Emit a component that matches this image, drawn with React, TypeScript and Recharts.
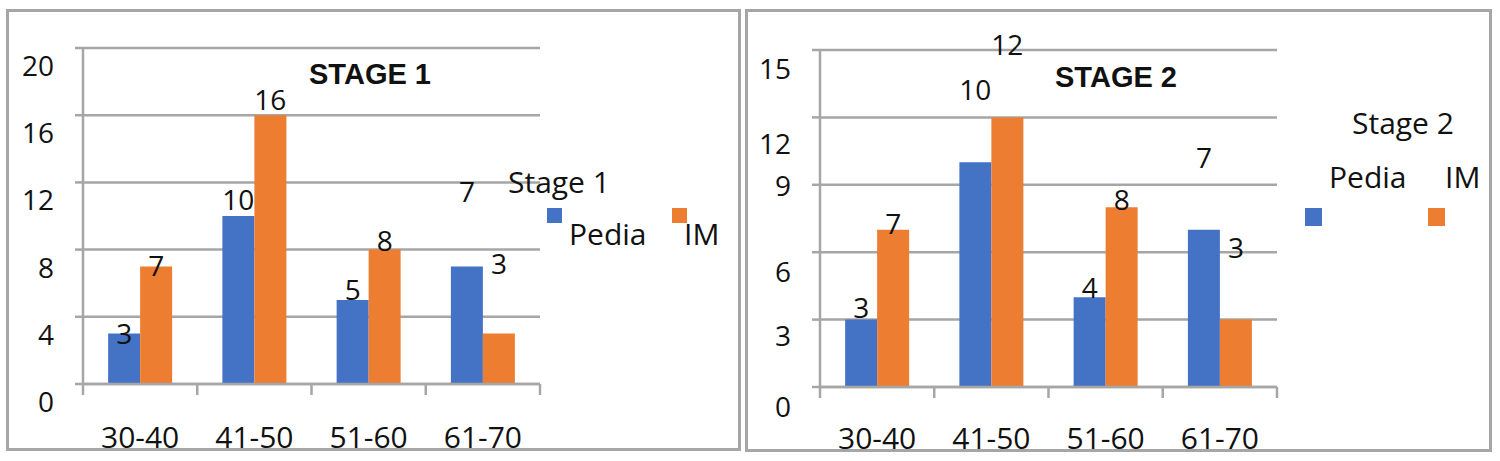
import React from "react";
import {
  BarChart,
  Bar,
  XAxis,
  YAxis,
  CartesianGrid,
  LabelList,
  Legend,
} from "recharts";

// values
const ageGroups = ["30-40", "41-50", "51-60", "61-70"];
const seriesNames = ["Pedia", "IM"];
const stage1Pedia = [3, 10, 5, 7];
const stage1IM = [7, 16, 8, 3];
const stage2Pedia = [3, 10, 4, 7];
const stage2IM = [7, 12, 8, 3];
const stage1Ticks = [0, 4, 8, 12, 16, 20];
const stage2Ticks = [0, 3, 6, 9, 12, 15];

const BLUE = "#4472C4";
const ORANGE = "#ED7D31";
const GRID = "#a6a6a6";
const INK = "#111";
const FONT = "'Open Sans', sans-serif";
const BAND = 457 / 4;

const buildRows = (pedia: number[], im: number[]) =>
  ageGroups.map((name, i) => ({ name, Pedia: pedia[i], IM: im[i] }));

// the source picture has its labels knocked out of place, keep that look
const makeBarLabel = (shift: number[]) => (props: any) => {
  const { x, y, width, value, index } = props;
  return (
    <text
      x={Number(x) + Number(width) / 2}
      y={Number(y) + shift[index] + 10}
      textAnchor="middle"
      fontSize={28}
      fontFamily={FONT}
      fill={INK}
    >
      {value}
    </text>
  );
};

const makeYTick = (shift: number[]) => (props: any) => {
  const { x, y, payload, index } = props;
  return (
    <text
      x={x - 21}
      y={y + shift[index] + 10}
      textAnchor="end"
      fontSize={28}
      fontFamily={FONT}
      fill={INK}
    >
      {payload.value}
    </text>
  );
};

const makeXTick = (drop: number) => (props: any) => {
  const { x, y, payload, index } = props;
  return (
    <g>
      <line x1={x - BAND / 2} x2={x - BAND / 2} y1={y} y2={y + 11} stroke={GRID} strokeWidth={2.5} />
      {index === ageGroups.length - 1 && (
        <line x1={x + BAND / 2} x2={x + BAND / 2} y1={y} y2={y + 11} stroke={GRID} strokeWidth={2.5} />
      )}
      <text x={x} y={y + drop} textAnchor="middle" fontSize={30} fontFamily={FONT} fill={INK}>
        {payload.value}
      </text>
    </g>
  );
};

interface LegendSpot {
  heading: string;
  headX: number;
  headY: number;
  boxX: number[];
  boxY: number;
  boxW: number;
  boxH: number;
  textX: number[];
  textY: number;
}

const makeLegend = (spot: LegendSpot, w: number, h: number) => (props: any) => {
  const items = props.payload || [];
  return (
    <svg width={w} height={h} style={{ overflow: "visible", display: "block" }}>
      <text x={spot.headX} y={spot.headY} fontSize={30} fontFamily={FONT} fill={INK}>
        {spot.heading}
      </text>
      {items.map((item: any) => {
        const i = Math.max(0, seriesNames.indexOf(String(item.value)));
        return (
          <g key={item.value}>
            <rect x={spot.boxX[i]} y={spot.boxY} width={spot.boxW} height={spot.boxH} fill={item.color} />
            <text x={spot.textX[i]} y={spot.textY} fontSize={30} fontFamily={FONT} fill={INK}>
              {item.value}
            </text>
          </g>
        );
      })}
    </svg>
  );
};

interface PanelProps {
  left: number;
  width: number;
  margin: { top: number; right: number; bottom: number; left: number };
  pedia: number[];
  im: number[];
  ticks: number[];
  tickShift: number[];
  pediaShift: number[];
  imShift: number[];
  xDrop: number;
  title: string;
  titleX: number;
  titleBase: number;
  legend: LegendSpot;
}

const StagePanel: React.FC<PanelProps> = (p) => {
  const height = 461;
  const data = buildRows(p.pedia, p.im);
  return (
    <div style={{ position: "absolute", left: p.left, top: 0, width: p.width, height }}>
      <BarChart
        width={p.width}
        height={height}
        data={data}
        margin={p.margin}
        barCategoryGap="22%"
        barGap={0}
      >
        <CartesianGrid horizontal vertical={false} stroke={GRID} strokeWidth={2.5} />
        <XAxis
          dataKey="name"
          height={70}
          axisLine={{ stroke: GRID, strokeWidth: 2.5 }}
          tickLine={false}
          tickSize={0}
          tickMargin={0}
          interval={0}
          tick={makeXTick(p.xDrop)}
        />
        <YAxis
          width={60}
          domain={[0, p.ticks[p.ticks.length - 1]]}
          ticks={p.ticks}
          interval={0}
          axisLine={{ stroke: GRID, strokeWidth: 2.5 }}
          tickLine={{ stroke: GRID, strokeWidth: 2.5 }}
          tickSize={8}
          tickMargin={0}
          tick={makeYTick(p.tickShift)}
        />
        <Legend
          layout="horizontal"
          verticalAlign="middle"
          align="center"
          content={makeLegend(p.legend, p.width, height)}
          wrapperStyle={{ left: 0, top: 0, width: p.width, height, pointerEvents: "none" }}
        />
        <Bar dataKey="Pedia" name="Pedia" fill={BLUE} isAnimationActive={false}>
          <LabelList dataKey="Pedia" content={makeBarLabel(p.pediaShift)} />
        </Bar>
        <Bar dataKey="IM" name="IM" fill={ORANGE} isAnimationActive={false}>
          <LabelList dataKey="IM" content={makeBarLabel(p.imShift)} />
        </Bar>
      </BarChart>
      <div
        style={{
          position: "absolute",
          left: p.titleX - 120,
          top: p.titleBase - 25,
          width: 240,
          textAlign: "center",
          fontFamily: "'Liberation Sans', Arial, sans-serif",
          fontWeight: "bold",
          fontSize: 29,
          lineHeight: 1,
          color: INK,
        }}
      >
        {p.title}
      </div>
    </div>
  );
};

const frame = (left: number, top: number, width: number, height: number): React.CSSProperties => ({
  position: "absolute",
  left,
  top,
  width,
  height,
  border: `3px solid ${GRID}`,
  boxSizing: "border-box",
});

export default function App() {
  return (
    <div
      style={{
        position: "fixed",
        left: 0,
        top: 0,
        width: 1500,
        height: 461,
        background: "#fff",
        overflow: "hidden",
      }}
    >
      <div style={frame(6, 9, 735, 442)} />
      <div style={frame(745, 9, 747, 443)} />
      <StagePanel
        left={0}
        width={745}
        margin={{ top: 48, right: 205, bottom: 7, left: 23 }}
        pedia={stage1Pedia}
        im={stage1IM}
        ticks={stage1Ticks}
        tickShift={[18, 18, 18, 18, 18, 18]}
        pediaShift={[0, -16, -10, -74]}
        imShift={[0, -15, -9, -70]}
        xDrop={64}
        title="STAGE 1"
        titleX={370}
        titleBase={85}
        legend={{
          heading: "Stage 1",
          headX: 508,
          headY: 193,
          boxX: [547, 672],
          boxY: 208,
          boxW: 15,
          boxH: 15,
          textX: [569, 684],
          textY: 245,
        }}
      />
      <StagePanel
        left={745}
        width={755}
        margin={{ top: 50, right: 223, bottom: 4, left: 15 }}
        pedia={stage2Pedia}
        im={stage2IM}
        ticks={stage2Ticks}
        tickShift={[20, 16, 20, 1, 27, 19]}
        pediaShift={[-12, -72, -9, -72]}
        imShift={[-6, -72, -7, -72]}
        xDrop={62}
        title="STAGE 2"
        titleX={371}
        titleBase={88}
        legend={{
          heading: "Stage 2",
          headX: 607,
          headY: 134,
          boxX: [560, 683],
          boxY: 208,
          boxW: 17,
          boxH: 18,
          textX: [584, 700],
          textY: 188,
        }}
      />
    </div>
  );
}
